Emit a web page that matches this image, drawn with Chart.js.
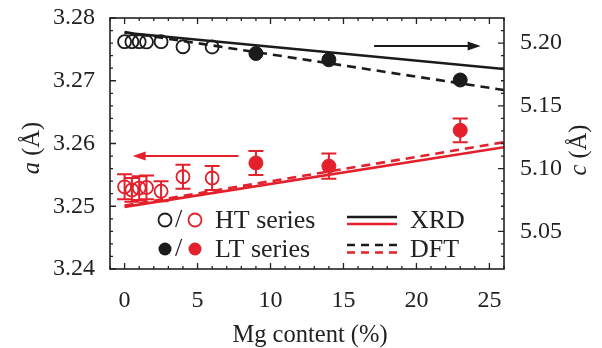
<!DOCTYPE html>
<html><head><meta charset="utf-8">
<script src="https://cdn.jsdelivr.net/npm/chart.js@4/dist/chart.umd.min.js"></script>
<style>html,body{margin:0;padding:0;background:#fff}#wrap{width:602px;height:348px}</style>
</head><body><div id="wrap"><canvas id="cv" width="602" height="348"></canvas></div>
<script>
// ---- data ----
const xTicks=[0,5,10,15,20,25];
const aTicks=[3.24,3.25,3.26,3.27,3.28];
const cTicks=[5.05,5.10,5.15,5.20];
const htX=[0,0.5,1,1.5,2.5,4,6];
const htC=[5.2011,5.2011,5.2011,5.2009,5.2011,5.1971,5.1969];
const htA=[3.2531,3.2526,3.2529,3.2530,3.2524,3.2547,3.2545];
const htAerr=[0.0020,0.0019,0.0019,0.0019,0.0016,0.0019,0.0019];
const ltX=[9,14,23];
const ltC=[5.1917,5.1867,5.1706];
const ltA=[3.2569,3.2564,3.2621];
const ltAerr=[0.0019,0.0020,0.0019];
const fitX=[0,26];
const xrdC=[5.2083,5.1794];
const dftC=[5.2088,5.1626];
const xrdA=[3.2499,3.2594];
const dftA=[3.2501,3.2602];
const legendLabels=['HT series','LT series','XRD','DFT'];
const xTitle='Mg content (%)';

// ---- style ----
const RED='#e3202b', BLK='#1b1b1b', FONT='"Liberation Serif", "DejaVu Serif", serif';
const pts=(xs,ys)=>xs.map((x,i)=>({x:x,y:ys[i]}));
const setTicks=arr=>s=>{s.ticks=arr.map(v=>({value:v}));};
const sizeY=w=>s=>{s.width=w; s.paddingTop=0; s.paddingBottom=0;};
const sizeX=h=>s=>{s.height=h; s.paddingLeft=0; s.paddingRight=0;};

const decor={
  id:'decor',
  beforeDatasetsDraw(chart){
    const ctx=chart.ctx, X=chart.scales.x, A=chart.scales.a;
    ctx.save();
    ctx.strokeStyle=RED; ctx.lineWidth=2;
    const bars=(xs,ys,es)=>xs.forEach((x,i)=>{
      const px=X.getPixelForValue(x), t=A.getPixelForValue(ys[i]+es[i]), b=A.getPixelForValue(ys[i]-es[i]);
      ctx.beginPath(); ctx.moveTo(px,t); ctx.lineTo(px,b);
      ctx.moveTo(px-7.5,t); ctx.lineTo(px+7.5,t);
      ctx.moveTo(px-7.5,b); ctx.lineTo(px+7.5,b); ctx.stroke();
    });
    bars(htX,htA,htAerr); bars(ltX,ltA,ltAerr);
    ctx.restore();
  },
  afterDraw(chart){
    const ctx=chart.ctx, ca=chart.chartArea, X=chart.scales.x, A=chart.scales.a, C=chart.scales.c;
    ctx.save();
    // frame
    ctx.strokeStyle='#222'; ctx.lineWidth=1.6;
    ctx.strokeRect(ca.left,ca.top,ca.right-ca.left,ca.bottom-ca.top);
    ctx.lineWidth=1.3;
    ctx.beginPath();
    for(let v=-1;v<=26;v++){
      const px=X.getPixelForValue(v), L=(v%5===0)?6:3;
      ctx.moveTo(px,ca.bottom); ctx.lineTo(px,ca.bottom-L);
      ctx.moveTo(px,ca.top); ctx.lineTo(px,ca.top+L);
    }
    for(let k=0;k<=20;k++){
      const v=3.24+k*0.002, py=A.getPixelForValue(v), L=(k%5===0)?6:3;
      ctx.moveTo(ca.left,py); ctx.lineTo(ca.left+L,py);
    }
    for(let k=3;k<=21;k++){
      const v=5.0+k*0.01, py=C.getPixelForValue(v), L=(k%5===0)?6:3;
      ctx.moveTo(ca.right,py); ctx.lineTo(ca.right-L,py);
    }
    ctx.stroke();
    // arrows
    const arrow=(x1,x2,y,col)=>{
      ctx.strokeStyle=col; ctx.fillStyle=col; ctx.lineWidth=2;
      const dir=Math.sign(x2-x1);
      ctx.beginPath(); ctx.moveTo(x1,y); ctx.lineTo(x2-dir*10,y); ctx.stroke();
      ctx.beginPath(); ctx.moveTo(x2,y); ctx.lineTo(x2-dir*13,y-4.5); ctx.lineTo(x2-dir*13,y+4.5); ctx.closePath(); ctx.fill();
    };
    arrow(X.getPixelForValue(17.1),X.getPixelForValue(24.4),C.getPixelForValue(5.1977),BLK);
    arrow(X.getPixelForValue(7.8),X.getPixelForValue(0.55),A.getPixelForValue(3.258),RED);
    // titles
    ctx.fillStyle='#222'; ctx.textBaseline='middle';
    ctx.font='24.5px '+FONT; ctx.textAlign='center';
    ctx.fillText(xTitle,(ca.left+ca.right)/2+3,336);
    const vtitle=(cx,cy,sym)=>{
      ctx.save(); ctx.translate(cx,cy); ctx.rotate(-Math.PI/2);
      ctx.font='italic 24.5px '+FONT; const w1=ctx.measureText(sym).width;
      ctx.font='24.5px '+FONT; const w2=ctx.measureText(' (Å)').width;
      let x0=-(w1+w2)/2; ctx.textAlign='left';
      ctx.font='italic 24.5px '+FONT; ctx.fillText(sym,x0,0);
      ctx.font='24.5px '+FONT; ctx.fillText(' (Å)',x0+w1,0);
      ctx.restore();
    };
    vtitle(33,148,'a'); vtitle(580,150,'c');
    // legend
    const circ=(x,y,col,fill)=>{
      ctx.beginPath(); ctx.arc(x,y,6.5,0,Math.PI*2);
      if(fill){ctx.fillStyle=col; ctx.fill();}
      else{ctx.strokeStyle=col; ctx.lineWidth=1.8; ctx.stroke();}
    };
    ctx.font='26px '+FONT; ctx.textAlign='left'; ctx.textBaseline='middle';
    circ(165,220,BLK,false); circ(195,220,RED,false);
    circ(165,249,BLK,true); circ(195,249,RED,true);
    ctx.fillStyle='#222';
    ctx.fillText('/',175,220); ctx.fillText('/',175,249);
    ctx.fillText(legendLabels[0],215,221); ctx.fillText(legendLabels[1],215,250);
    ctx.fillText(legendLabels[2],410,221); ctx.fillText(legendLabels[3],410,250);
    const seg=(y,col,dash)=>{
      ctx.strokeStyle=col; ctx.lineWidth=2.6; ctx.setLineDash(dash);
      ctx.beginPath(); ctx.moveTo(347,y); ctx.lineTo(397,y); ctx.stroke(); ctx.setLineDash([]);
    };
    seg(217,BLK,[]); seg(224,RED,[]); seg(245,BLK,[8,6]); seg(252.5,RED,[8,6]);
    ctx.restore();
  }
};

new Chart(document.getElementById('cv'),{
  type:'scatter',
  data:{datasets:[
    {data:pts(ltX,ltC),yAxisID:'c',pointRadius:7,pointBackgroundColor:BLK,pointBorderColor:BLK,pointBorderWidth:1},
    {data:pts(htX,htC),yAxisID:'c',pointRadius:6.5,pointBackgroundColor:'rgba(0,0,0,0)',pointBorderColor:BLK,pointBorderWidth:1.8},
    {data:pts(ltX,ltA),yAxisID:'a',pointRadius:7,pointBackgroundColor:RED,pointBorderColor:RED,pointBorderWidth:1},
    {data:pts(htX,htA),yAxisID:'a',pointRadius:6.5,pointBackgroundColor:'rgba(0,0,0,0)',pointBorderColor:RED,pointBorderWidth:1.8},
    {data:pts(fitX,xrdC),yAxisID:'c',showLine:true,pointRadius:0,borderColor:BLK,borderWidth:2.6},
    {data:pts(fitX,dftC),yAxisID:'c',showLine:true,pointRadius:0,borderColor:BLK,borderWidth:2.6,borderDash:[9,6]},
    {data:pts(fitX,xrdA),yAxisID:'a',showLine:true,pointRadius:0,borderColor:RED,borderWidth:2.6},
    {data:pts(fitX,dftA),yAxisID:'a',showLine:true,pointRadius:0,borderColor:RED,borderWidth:2.6,borderDash:[9,6]}
  ]},
  options:{
    responsive:false,animation:false,events:[],
    layout:{padding:{top:18,left:0,right:0,bottom:0}},
    plugins:{legend:{display:false},tooltip:{enabled:false},title:{display:false}},
    scales:{
      x:{type:'linear',position:'bottom',min:-1,max:26,
        afterBuildTicks:setTicks(xTicks),afterFit:sizeX(79),
        grid:{display:false,drawTicks:false},border:{display:false},
        ticks:{font:{family:FONT,size:24},color:'#222',padding:17,maxRotation:0,autoSkip:false}},
      a:{type:'linear',position:'left',min:3.24,max:3.28,
        afterBuildTicks:setTicks(aTicks),afterFit:sizeY(110),
        grid:{display:false,drawTicks:false},border:{display:false},
        ticks:{font:{family:FONT,size:24},color:'#222',padding:15,autoSkip:false,callback:v=>v.toFixed(2)}},
      c:{type:'linear',position:'right',min:5.02,max:5.22,
        afterBuildTicks:setTicks(cTicks),afterFit:sizeY(98),
        grid:{display:false,drawTicks:false},border:{display:false},
        ticks:{font:{family:FONT,size:24},color:'#222',padding:16,autoSkip:false,callback:v=>v.toFixed(2)}}
    }
  },
  plugins:[decor]
});
</script></body></html>
